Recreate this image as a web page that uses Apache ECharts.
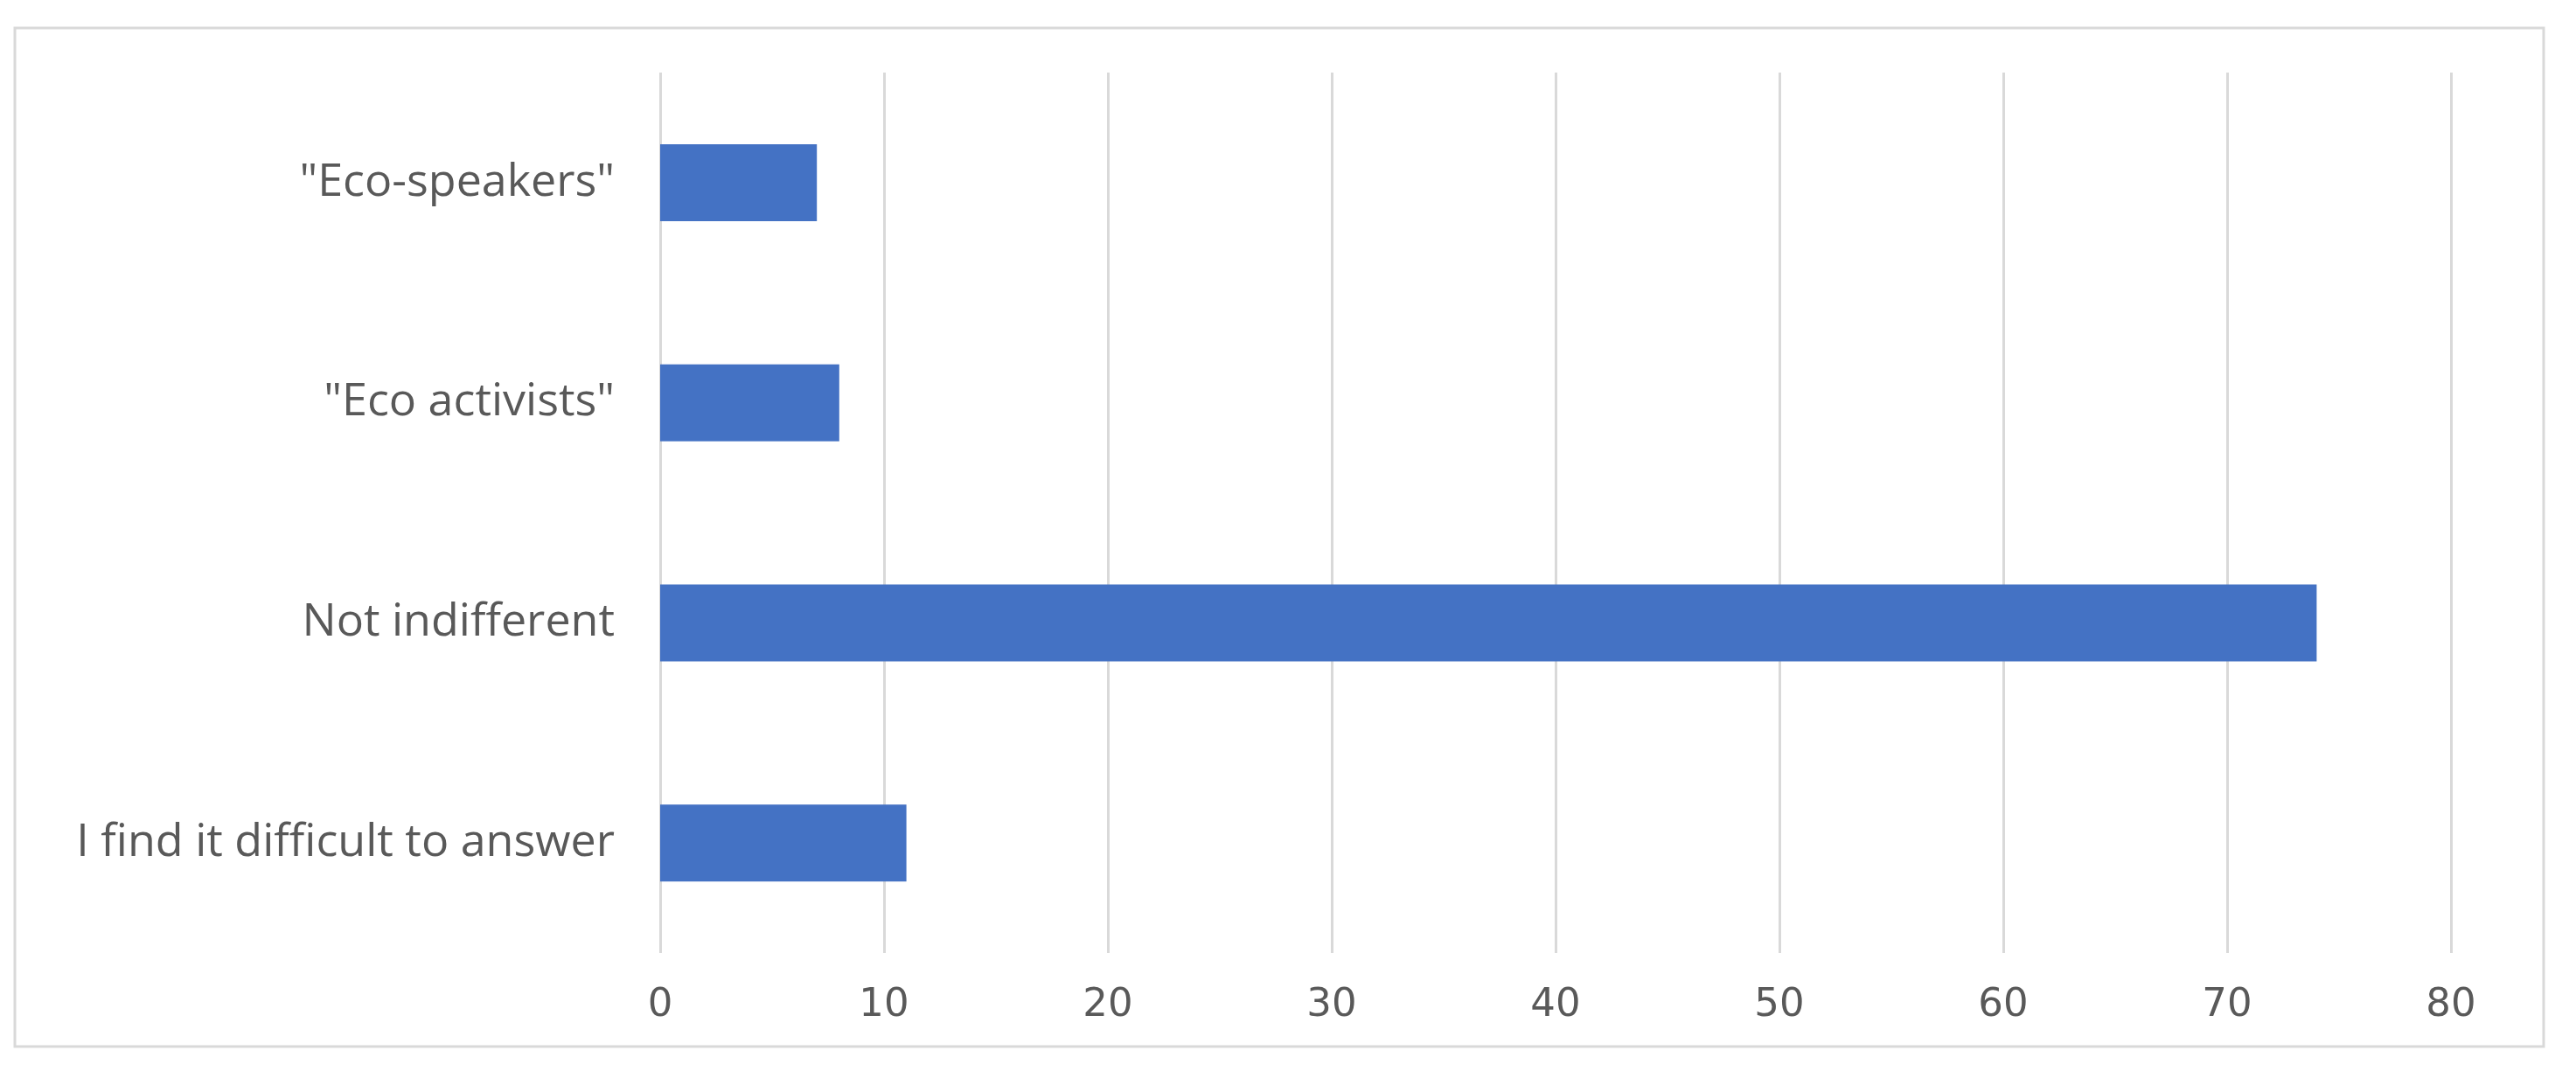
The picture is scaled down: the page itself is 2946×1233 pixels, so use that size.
<!DOCTYPE html>
<html>
<head>
<meta charset="utf-8">
<script src="https://cdn.jsdelivr.net/npm/echarts@6/dist/echarts.min.js"></script>
<style>
html,body{margin:0;padding:0;background:#fff;}
#chart{width:2946px;height:1233px;}
</style>
</head>
<body>
<div id="chart"></div>
<script>
const categories = ['"Eco-speakers"', '"Eco activists"', 'Not indifferent', 'I find it difficult to answer'];
const values = [7, 8, 74, 11];
const xTicks = [0, 10, 20, 30, 40, 50, 60, 70, 80];

const chart = echarts.init(document.getElementById('chart'));
chart.setOption({
  backgroundColor: '#ffffff',
  animation: false,
  graphic: [{
    type: 'rect',
    shape: {x: 17, y: 32, width: 2892, height: 1165},
    style: {fill: 'none', stroke: '#d9d9d9', lineWidth: 3},
    silent: true
  }],
  grid: {left: 755, right: 2946 - 2803, top: 83, bottom: 1233 - 1090, containLabel: false},
  xAxis: {
    type: 'value',
    min: xTicks[0],
    max: xTicks[xTicks.length - 1],
    interval: 10,
    axisLine: {show: false},
    axisTick: {show: false},
    splitLine: {show: true, lineStyle: {color: '#d9d9d9', width: 3}},
    axisLabel: {color: '#595959', fontSize: 45, fontFamily: 'DejaVu Sans', margin: 38}
  },
  yAxis: {
    type: 'category',
    data: categories,
    inverse: true,
    axisLine: {show: false},
    axisTick: {show: false},
    splitLine: {show: false},
    axisLabel: {color: '#595959', fontSize: 52, fontFamily: 'Open Sans', margin: 52}
  },
  series: [{
    type: 'bar',
    data: values,
    barWidth: 88,
    itemStyle: {color: '#4472C4'}
  }]
});
</script>
</body>
</html>
